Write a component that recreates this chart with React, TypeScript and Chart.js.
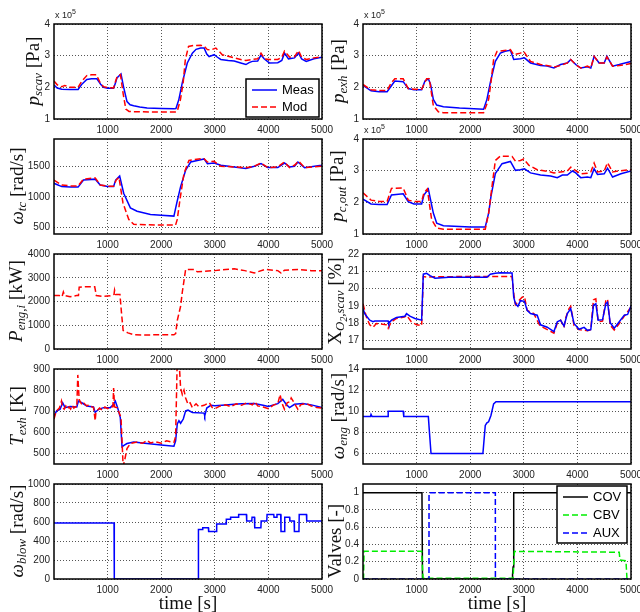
import React, { useEffect, useRef } from "react";
import { Chart, registerables } from "chart.js";
Chart.register(...registerables);

// ---------- axis ticks ----------
const X_TICKS = [1000, 2000, 3000, 4000, 5000];
const P_TICKS = [1, 2, 3, 4];
const WTC_TICKS = [500, 1000, 1500];
const PENG_TICKS = [0, 1000, 2000, 3000, 4000];
const TEXH_TICKS = [500, 600, 700, 800, 900];
const WBLOW_TICKS = [0, 200, 400, 600, 800, 1000];
const XO2_TICKS = [17, 18, 19, 20, 21, 22];
const WENG_TICKS = [6, 8, 10, 12, 14];
const VALVE_TICKS = [0, 0.2, 0.4, 0.6, 0.8, 1];

// ---------- p_scav (x 1e5 Pa) ----------
const pScavMeasT = [0, 60, 145, 300, 450, 520, 612, 700, 800, 870, 925, 1000, 1112, 1150, 1175, 1250, 1300, 1362, 1420, 1487, 1600, 1737, 2000, 2237, 2275, 2330, 2394, 2487, 2581, 2650, 2737, 2800, 2850, 2894, 2987, 3050, 3112, 3250, 3362, 3500, 3581, 3640, 3700, 3800, 3862, 3920, 4018, 4175, 4250, 4300, 4375, 4487, 4562, 4620, 4706, 4850, 5000];
const pScavMeasV = [2.07, 1.98, 1.94, 1.93, 1.93, 2.1, 2.25, 2.27, 2.27, 2.1, 2.0, 1.97, 1.97, 2.15, 2.3, 2.42, 2.0, 1.55, 1.45, 1.42, 1.38, 1.35, 1.33, 1.32, 1.33, 1.62, 2.15, 2.77, 3.08, 3.2, 3.24, 3.24, 3.05, 2.97, 3.03, 2.95, 2.88, 2.85, 2.83, 2.76, 2.72, 2.78, 2.82, 2.83, 3.02, 2.9, 2.77, 2.78, 2.85, 3.08, 2.9, 2.93, 3.08, 2.9, 2.82, 2.9, 2.95];
const pScavModT = [0, 60, 145, 200, 300, 450, 520, 612, 700, 790, 860, 925, 1000, 1112, 1150, 1180, 1240, 1290, 1340, 1400, 1487, 2000, 2260, 2300, 2360, 2410, 2450, 2510, 2600, 2737, 2800, 2862, 2925, 3020, 3140, 3362, 3500, 3581, 3700, 3800, 3862, 3930, 4018, 4175, 4250, 4300, 4400, 4487, 4562, 4620, 4706, 4850, 5000];
const pScavModV = [2.2, 2.08, 2.02, 2.06, 2.0, 2.0, 2.2, 2.37, 2.4, 2.4, 2.15, 2.02, 1.99, 1.98, 2.2, 2.35, 2.4, 1.8, 1.31, 1.24, 1.23, 1.22, 1.22, 1.25, 1.62, 2.15, 2.87, 3.29, 3.32, 3.33, 3.3, 3.19, 3.18, 3.24, 3.03, 2.93, 2.87, 2.85, 2.88, 2.9, 3.08, 2.9, 2.88, 2.88, 2.95, 3.14, 2.95, 2.97, 3.16, 2.95, 2.88, 2.93, 2.97];

// ---------- p_exh (x 1e5 Pa) ----------
const pExhMeasT = [0, 150, 300, 450, 530, 594, 750, 844, 950, 1094, 1156, 1219, 1260, 1312, 1375, 1500, 1800, 2250, 2312, 2375, 2469, 2562, 2650, 2750, 2812, 2937, 3012, 3125, 3312, 3437, 3562, 3687, 3812, 3875, 3969, 4062, 4187, 4250, 4312, 4406, 4500, 4550, 4656, 4781, 5000];
const pExhMeasV = [2.06, 1.89, 1.86, 1.86, 2.05, 2.2, 2.18, 1.96, 1.92, 1.92, 2.2, 2.27, 2.1, 1.62, 1.44, 1.39, 1.35, 1.31, 1.62, 2.15, 2.82, 3.08, 3.14, 3.17, 2.88, 2.9, 2.93, 2.77, 2.69, 2.67, 2.61, 2.72, 2.77, 2.88, 2.72, 2.61, 2.65, 2.61, 2.98, 2.77, 2.77, 2.98, 2.67, 2.72, 2.82];
const pExhModT = [0, 150, 300, 450, 530, 594, 750, 844, 950, 1094, 1187, 1237, 1312, 1406, 1500, 2250, 2344, 2387, 2437, 2500, 2750, 2812, 2937, 3000, 3125, 3312, 3500, 3562, 3687, 3812, 3875, 3969, 4062, 4187, 4250, 4312, 4406, 4500, 4550, 4656, 4781, 5000];
const pExhModV = [2.09, 1.92, 1.9, 1.9, 2.15, 2.27, 2.27, 1.96, 1.94, 1.94, 2.27, 2.27, 1.42, 1.23, 1.2, 1.2, 1.62, 2.15, 2.88, 3.13, 3.19, 3.03, 3.08, 3.13, 2.82, 2.72, 2.67, 2.64, 2.69, 2.77, 2.88, 2.72, 2.61, 2.67, 2.61, 2.98, 2.77, 2.77, 2.96, 2.67, 2.69, 2.75];

// ---------- omega_tc (rad/s) ----------
const wTcMeasT = [0, 145, 300, 450, 550, 770, 862, 1000, 1112, 1150, 1225, 1300, 1425, 1550, 1800, 2000, 2237, 2290, 2362, 2456, 2550, 2737, 2800, 2862, 2987, 3112, 3362, 3581, 3737, 3862, 3987, 4175, 4300, 4394, 4487, 4550, 4675, 4987, 5000];
const wTcMeasV = [1222, 1168, 1160, 1160, 1275, 1290, 1195, 1170, 1170, 1275, 1340, 1060, 821, 767, 714, 700, 687, 900, 1168, 1436, 1570, 1607, 1620, 1543, 1553, 1516, 1489, 1463, 1500, 1543, 1478, 1478, 1553, 1489, 1500, 1570, 1478, 1516, 1520];
const wTcModT = [0, 145, 300, 450, 550, 770, 862, 1000, 1112, 1160, 1212, 1287, 1394, 1487, 2000, 2268, 2300, 2350, 2425, 2518, 2737, 2800, 2862, 2987, 3112, 3362, 3581, 3737, 3862, 3987, 4175, 4300, 4394, 4487, 4562, 4675, 4987, 5000];
const wTcModV = [1275, 1195, 1180, 1180, 1290, 1310, 1195, 1175, 1175, 1275, 1318, 901, 634, 553, 540, 540, 634, 955, 1382, 1596, 1623, 1623, 1570, 1580, 1500, 1489, 1478, 1500, 1553, 1478, 1489, 1570, 1478, 1516, 1585, 1478, 1500, 1505];

// ---------- p_c,out (x 1e5 Pa) ----------
const pcMeasT = [0, 150, 300, 450, 531, 750, 844, 950, 1094, 1137, 1219, 1312, 1375, 1500, 2000, 2281, 2344, 2387, 2469, 2594, 2750, 2844, 2937, 3012, 3125, 3312, 3500, 3625, 3719, 3812, 3906, 3969, 4062, 4187, 4250, 4312, 4375, 4500, 4562, 4656, 4812, 5000];
const pcMeasV = [2.1, 1.95, 1.93, 1.93, 2.23, 2.27, 2.02, 1.95, 1.95, 2.23, 2.42, 1.66, 1.34, 1.26, 1.22, 1.22, 1.66, 2.18, 2.91, 3.22, 3.29, 3.01, 3.03, 3.06, 2.93, 2.86, 2.83, 2.78, 2.86, 2.86, 2.99, 2.93, 2.78, 2.8, 2.78, 3.06, 2.88, 2.9, 3.08, 2.8, 2.9, 2.99];
const pcModT = [0, 150, 300, 450, 531, 750, 844, 950, 1094, 1137, 1200, 1281, 1375, 1500, 2000, 2281, 2344, 2406, 2469, 2562, 2781, 2844, 2937, 3000, 3094, 3250, 3500, 3562, 3687, 3812, 3875, 3969, 4062, 4187, 4250, 4312, 4375, 4500, 4562, 4656, 4812, 5000];
const pcModV = [2.3, 2.07, 2.03, 2.03, 2.44, 2.45, 2.07, 2.03, 2.03, 2.3, 2.42, 1.45, 1.19, 1.15, 1.15, 1.15, 1.66, 2.49, 3.32, 3.46, 3.45, 3.3, 3.32, 3.37, 3.17, 3.03, 2.96, 2.93, 2.96, 2.99, 3.11, 3.0, 2.9, 2.92, 2.96, 3.24, 2.96, 2.99, 3.25, 2.96, 3.0, 3.03];

// ---------- P_eng,i (kW) ----------
const pEngT = [0, 100, 150, 175, 200, 300, 420, 456, 470, 600, 760, 790, 900, 1050, 1120, 1130, 1150, 1230, 1260, 1290, 1380, 1487, 1700, 2000, 2237, 2270, 2300, 2362, 2394, 2456, 2612, 2675, 2800, 3000, 3200, 3362, 3560, 3737, 3800, 3937, 4175, 4237, 4300, 4550, 4800, 5000];
const pEngV = [2250, 2250, 2200, 2400, 2250, 2200, 2250, 2250, 2600, 2620, 2620, 2250, 2220, 2240, 2300, 2480, 2300, 2300, 1500, 780, 680, 600, 590, 600, 600, 650, 1200, 1800, 2400, 3350, 3350, 3250, 3270, 3300, 3350, 3380, 3300, 3200, 3250, 3350, 3300, 3200, 3320, 3350, 3300, 3300];

// ---------- X_O2,scav (%) ----------
const xo2MeasT = [0, 31, 125, 187, 220, 469, 480, 531, 625, 781, 812, 875, 969, 1094, 1125, 1187, 1250, 1344, 1600, 2000, 2312, 2375, 2469, 2562, 2781, 2812, 2844, 2890, 2937, 3012, 3062, 3125, 3250, 3312, 3437, 3562, 3625, 3687, 3750, 3812, 3875, 3937, 4031, 4125, 4187, 4250, 4300, 4344, 4387, 4469, 4531, 4562, 4612, 4687, 4781, 4875, 4937, 5000];
const xo2MeasV = [18.84, 18.55, 18.17, 18.08, 18.12, 18.12, 17.98, 18.17, 18.33, 18.4, 18.55, 18.4, 18.27, 18.17, 20.83, 20.88, 20.75, 20.6, 20.65, 20.65, 20.65, 20.83, 20.88, 20.92, 20.9, 19.5, 19.12, 18.97, 19.3, 19.26, 18.74, 18.55, 18.46, 17.9, 17.76, 17.51, 18.08, 18.17, 17.83, 18.55, 18.84, 17.98, 17.64, 17.75, 17.58, 17.62, 19.03, 19.12, 18.17, 18.2, 19.12, 19.21, 18.02, 17.7, 18.08, 18.46, 18.5, 18.99];
const xo2ModT = [0, 62, 125, 187, 250, 437, 469, 531, 625, 781, 812, 900, 1000, 1094, 1125, 1187, 2000, 2781, 2812, 2844, 2906, 2969, 3012, 3062, 3187, 3300, 3562, 3625, 3687, 3750, 3781, 3844, 3875, 3937, 4031, 4187, 4250, 4300, 4344, 4387, 4469, 4531, 4562, 4612, 4687, 4781, 4875, 5000];
const xo2ModV = [19.12, 18.36, 17.9, 17.76, 17.98, 17.9, 17.7, 18.08, 18.27, 18.36, 18.46, 18.08, 17.9, 17.85, 20.69, 20.67, 20.7, 20.7, 19.7, 19.06, 19.3, 19.5, 19.54, 18.74, 18.55, 17.85, 17.42, 18.0, 18.17, 17.75, 18.3, 18.84, 18.97, 17.87, 17.62, 17.56, 17.62, 19.35, 19.4, 18.08, 18.12, 19.3, 19.4, 17.87, 17.6, 17.98, 18.4, 18.93];

// ---------- T_exh (K) ----------
const tExhMeasT = [0, 50, 112, 162, 206, 300, 425, 456, 518, 612, 737, 769, 831, 925, 1050, 1112, 1144, 1187, 1237, 1269, 1312, 1362, 1487, 1737, 2000, 2237, 2269, 2300, 2331, 2362, 2412, 2456, 2500, 2581, 2800, 2812, 2850, 2925, 3000, 3200, 3362, 3500, 3737, 3900, 4000, 4175, 4268, 4330, 4394, 4487, 4643, 4800, 5000];
const tExhMeasV = [678, 702, 709, 740, 717, 722, 720, 748, 740, 725, 720, 694, 709, 717, 717, 733, 748, 717, 670, 531, 539, 547, 554, 547, 540, 534, 560, 640, 655, 643, 663, 702, 705, 694, 691, 678, 715, 728, 726, 730, 733, 735, 736, 728, 722, 736, 756, 733, 717, 733, 736, 730, 717];
const tExhModT = [0, 30, 60, 100, 125, 140, 160, 190, 220, 250, 280, 310, 340, 370, 400, 425, 444, 469, 500, 530, 560, 612, 650, 700, 737, 769, 780, 800, 850, 900, 950, 1000, 1050, 1100, 1112, 1130, 1180, 1250, 1290, 1320, 1362, 1425, 1550, 1650, 1737, 1800, 1900, 2000, 2100, 2237, 2269, 2300, 2331, 2362, 2394, 2425, 2456, 2500, 2540, 2581, 2650, 2700, 2800, 2850, 2900, 2950, 3000, 3100, 3200, 3300, 3400, 3500, 3600, 3700, 3750, 3800, 3900, 4000, 4100, 4175, 4218, 4250, 4300, 4350, 4400, 4425, 4480, 4550, 4600, 4700, 4800, 4900, 5000];
const tExhModV = [663, 690, 705, 715, 735, 748, 718, 710, 725, 712, 720, 710, 728, 715, 722, 718, 872, 756, 740, 730, 738, 725, 730, 722, 718, 655, 690, 700, 715, 705, 720, 712, 718, 722, 810, 720, 716, 670, 440, 470, 523, 547, 554, 548, 562, 550, 555, 548, 560, 552, 580, 950, 950, 810, 779, 800, 763, 733, 740, 717, 735, 722, 728, 735, 740, 718, 712, 725, 730, 722, 735, 728, 740, 730, 745, 725, 720, 712, 730, 735, 779, 740, 709, 740, 745, 763, 740, 709, 730, 738, 725, 718, 715];

// ---------- omega_eng (rad/s) ----------
const wEngT = [0, 140, 150, 170, 469, 470, 750, 760, 1219, 1237, 1269, 2237, 2281, 2312, 2343, 2387, 2437, 2481, 5000];
const wEngV = [9.5, 9.5, 9.7, 9.5, 9.5, 10.0, 10.0, 9.5, 9.5, 8.2, 6.0, 6.0, 8.65, 8.9, 9.0, 9.6, 10.7, 10.9, 10.9];

// ---------- omega_blow (rad/s) ----------
const wBlowT = [0, 1120, 1125, 2690, 2695, 2770, 2775, 2880, 2885, 3030, 3035, 3210, 3215, 3290, 3295, 3440, 3445, 3590, 3595, 3690, 3695, 3740, 3745, 3860, 3865, 3970, 3975, 4100, 4105, 4155, 4160, 4230, 4235, 4300, 4305, 4395, 4400, 4480, 4485, 4570, 4575, 4710, 4715, 5000];
const wBlowV = [590, 590, 0, 0, 520, 520, 540, 540, 500, 500, 580, 580, 630, 630, 650, 650, 680, 680, 610, 610, 650, 650, 540, 540, 610, 610, 680, 680, 650, 650, 680, 680, 500, 500, 650, 650, 610, 610, 500, 500, 680, 680, 610, 610];

// ---------- Valves (-) ----------
const covT = [0, 1100, 1110, 2780, 2790, 2800, 2812, 5000];
const covV = [1, 1, 0, 0, 0.05, 0.14, 1, 1];
const cbvT = [0, 10, 20, 1094, 1120, 2800, 2825, 4780, 4794, 4906, 4925, 5000];
const cbvV = [0, 0, 0.32, 0.32, 0.01, 0.01, 0.32, 0.31, 0.22, 0.21, 0, 0];
const auxT = [0, 1231, 1232, 2469, 2470, 5000];
const auxV = [0, 0, 1, 1, 0, 0];

// ---------- layout ----------
const COL_LEFT = [54, 363];
const ROW_TOP = [23, 138, 253, 368, 483];
const PW = 268;
const PH = 96;
const YW = 46;
const TP = 9;
const RP = 18;
const XH = 18;

const BLUE = "#0000ff";
const RED = "#ff0000";
const GREEN = "#00ee00";
const DASH = [6, 3];

type Series = { t: number[]; v: number[]; color: string; dash: number[]; order: number };
type LegendItem = { label: string; color: string; dash: number[] };
type LegendCfg = { left: number; top: number; w: number; h: number; row0: number; dy: number; items: LegendItem[] };
type PanelCfg = {
  col: number; row: number; yMin: number; yMax: number; yTicks: number[];
  series: Series[]; legend?: LegendCfg; label: React.ReactNode; labelX: number; labelDY?: number; mult?: boolean;
};

const framePlugin = {
  id: "frameBox",
  afterDraw(chart: any, _args: any, opts: any) {
    const { ctx, chartArea: a } = chart;
    ctx.save();
    ctx.setLineDash([]);
    ctx.strokeStyle = "#000";
    ctx.lineWidth = 1.5;
    ctx.strokeRect(a.left, a.top, a.right - a.left, a.bottom - a.top);
    const lg: LegendCfg | undefined = opts && opts.legend;
    if (lg) {
      const L = a.left + lg.left;
      const T = a.top + lg.top;
      ctx.fillStyle = "#fff";
      ctx.fillRect(L, T, lg.w, lg.h);
      ctx.strokeRect(L, T, lg.w, lg.h);
      ctx.font = '13px "Liberation Sans", Arial, sans-serif';
      ctx.textBaseline = "middle";
      lg.items.forEach((it, i) => {
        const y = T + lg.row0 + i * lg.dy;
        ctx.beginPath();
        ctx.setLineDash(it.dash);
        ctx.strokeStyle = it.color;
        ctx.lineWidth = 1.5;
        ctx.moveTo(L + 6, y);
        ctx.lineTo(L + 31, y);
        ctx.stroke();
        ctx.setLineDash([]);
        ctx.fillStyle = "#000";
        ctx.fillText(it.label, L + 36, y + 0.5);
      });
    }
    ctx.restore();
  },
};

const tickFont = { family: '"Liberation Sans", Arial, sans-serif', size: 10 };

function Panel({ cfg }: { cfg: PanelCfg }) {
  const ref = useRef<HTMLCanvasElement | null>(null);
  useEffect(() => {
    const canvas = ref.current!;
    const chart = new Chart(canvas, {
      type: "line",
      data: {
        datasets: cfg.series.map((s) => ({
          data: s.t.map((t, i) => ({ x: t, y: s.v[i] })),
          borderColor: s.color,
          borderWidth: 1.5,
          borderDash: s.dash,
          pointRadius: 0,
          fill: false,
          tension: 0,
          order: s.order,
        })),
      },
      options: {
        animation: false,
        responsive: false,
        maintainAspectRatio: false,
        events: [],
        layout: { padding: { top: TP, right: RP, left: 0, bottom: 0 } },
        plugins: {
          legend: { display: false },
          tooltip: { enabled: false },
          frameBox: { legend: cfg.legend },
        } as any,
        scales: {
          x: {
            type: "linear",
            min: 0,
            max: 5000,
            afterBuildTicks: (s: any) => { s.ticks = X_TICKS.map((value) => ({ value })); },
            afterFit: (s: any) => { s.height = XH; },
            grid: { color: "#555", lineWidth: 1, drawTicks: false },
            border: { display: false, dash: [1, 2] },
            ticks: { font: tickFont, color: "#222", padding: 5, maxRotation: 0, minRotation: 0, autoSkip: false, callback: (v: any) => String(v) },
          },
          y: {
            type: "linear",
            min: cfg.yMin,
            max: cfg.yMax,
            afterBuildTicks: (s: any) => { s.ticks = cfg.yTicks.map((value) => ({ value })); },
            afterFit: (s: any) => { s.width = YW; },
            grid: { color: "#555", lineWidth: 1, drawTicks: false },
            border: { display: false, dash: [1, 2] },
            ticks: { font: tickFont, color: "#222", padding: 4, autoSkip: false, callback: (v: any) => String(v) },
          },
        },
      } as any,
      plugins: [framePlugin],
    });
    return () => chart.destroy();
  }, [cfg]);

  const left = COL_LEFT[cfg.col] - YW;
  const top = ROW_TOP[cfg.row] - TP;
  const w = YW + PW + RP;
  const h = TP + PH + XH;
  return (
    <canvas
      ref={ref}
      width={w}
      height={h}
      style={{ position: "absolute", left, top, width: w, height: h }}
    />
  );
}

const It = ({ children }: { children: React.ReactNode }) => <span style={{ fontStyle: "italic" }}>{children}</span>;
const Sub = ({ children }: { children: React.ReactNode }) => (
  <span style={{ fontSize: "0.68em", fontStyle: "italic", position: "relative", top: "0.25em" }}>{children}</span>
);

const panels: PanelCfg[] = [
  {
    col: 0, row: 0, yMin: 1, yMax: 4, yTicks: P_TICKS, mult: true, labelX: 34,
    series: [
      { t: pScavMeasT, v: pScavMeasV, color: BLUE, dash: [], order: 1 },
      { t: pScavModT, v: pScavModV, color: RED, dash: DASH, order: 0 },
    ],
    legend: {
      left: 192, top: 55, w: 73, h: 38, row0: 11, dy: 17,
      items: [
        { label: "Meas", color: BLUE, dash: [] },
        { label: "Mod", color: RED, dash: DASH },
      ],
    },
    label: <><It>p</It><Sub>scav</Sub>{"\u00a0[Pa]"}</>,
  },
  {
    col: 0, row: 1, yMin: 395, yMax: 1945, yTicks: WTC_TICKS, labelX: 18,
    series: [
      { t: wTcMeasT, v: wTcMeasV, color: BLUE, dash: [], order: 1 },
      { t: wTcModT, v: wTcModV, color: RED, dash: DASH, order: 0 },
    ],
    label: <><It>ω</It><Sub>tc</Sub>{"\u00a0[rad/s]"}</>,
  },
  {
    col: 0, row: 2, yMin: 0, yMax: 4000, yTicks: PENG_TICKS, labelX: 17,
    series: [{ t: pEngT, v: pEngV, color: RED, dash: DASH, order: 0 }],
    label: <><It>P</It><Sub>eng,i</Sub>{"\u00a0[kW]"}</>,
  },
  {
    col: 0, row: 3, yMin: 450, yMax: 900, yTicks: TEXH_TICKS, labelX: 18,
    series: [
      { t: tExhMeasT, v: tExhMeasV, color: BLUE, dash: [], order: 1 },
      { t: tExhModT, v: tExhModV, color: RED, dash: DASH, order: 0 },
    ],
    label: <><It>T</It><Sub>exh</Sub>{"\u00a0[K]"}</>,
  },
  {
    col: 0, row: 4, yMin: 0, yMax: 1000, yTicks: WBLOW_TICKS, labelX: 18,
    series: [{ t: wBlowT, v: wBlowV, color: BLUE, dash: [], order: 0 }],
    label: <><It>ω</It><Sub>blow</Sub>{"\u00a0[rad/s]"}</>,
  },
  {
    col: 1, row: 0, yMin: 1, yMax: 4, yTicks: P_TICKS, mult: true, labelX: 339,
    series: [
      { t: pExhMeasT, v: pExhMeasV, color: BLUE, dash: [], order: 1 },
      { t: pExhModT, v: pExhModV, color: RED, dash: DASH, order: 0 },
    ],
    label: <><It>p</It><Sub>exh</Sub>{"\u00a0[Pa]"}</>,
  },
  {
    col: 1, row: 1, yMin: 1, yMax: 4, yTicks: P_TICKS, mult: true, labelX: 338,
    series: [
      { t: pcMeasT, v: pcMeasV, color: BLUE, dash: [], order: 1 },
      { t: pcModT, v: pcModV, color: RED, dash: DASH, order: 0 },
    ],
    label: <><It>p</It><Sub>c,out</Sub>{"\u00a0[Pa]"}</>,
  },
  {
    col: 1, row: 2, yMin: 16.5, yMax: 22, yTicks: XO2_TICKS, labelX: 336,
    series: [
      { t: xo2MeasT, v: xo2MeasV, color: BLUE, dash: [], order: 0 },
      { t: xo2ModT, v: xo2ModV, color: RED, dash: DASH, order: 1 },
    ],
    label: (
      <>X<Sub>O<span style={{ fontSize: "0.75em", position: "relative", top: "0.25em" }}>2</span>,scav</Sub>{"\u00a0[%]"}</>
    ),
  },
  {
    col: 1, row: 3, yMin: 5, yMax: 14, yTicks: WENG_TICKS, labelX: 339,
    series: [{ t: wEngT, v: wEngV, color: BLUE, dash: [], order: 0 }],
    label: <><It>ω</It><Sub>eng</Sub>{"\u00a0[rad/s]"}</>,
  },
  {
    col: 1, row: 4, yMin: 0, yMax: 1.1, yTicks: VALVE_TICKS, labelX: 335, labelDY: 10,
    series: [
      { t: covT, v: covV, color: "#000", dash: [], order: 2 },
      { t: cbvT, v: cbvV, color: GREEN, dash: DASH, order: 1 },
      { t: auxT, v: auxV, color: BLUE, dash: DASH, order: 0 },
    ],
    legend: {
      left: 194, top: 2, w: 70, h: 57, row0: 11, dy: 18,
      items: [
        { label: "COV", color: "#000", dash: [] },
        { label: "CBV", color: GREEN, dash: DASH },
        { label: "AUX", color: BLUE, dash: DASH },
      ],
    },
    label: <>{"Valves\u00a0[-]"}</>,
  },
];

const serif = '"Liberation Serif", "DejaVu Serif", serif';

export default function App() {
  return (
    <div style={{ position: "absolute", left: 0, top: 0, width: 640, height: 612, background: "#fff", overflow: "hidden" }}>
      {panels.map((p, i) => (
        <Panel key={i} cfg={p} />
      ))}
      {panels.map((p, i) => (
        <div
          key={"l" + i}
          style={{
            position: "absolute",
            left: p.labelX,
            top: ROW_TOP[p.row] + PH / 2 + (p.labelDY || 0),
            transform: "translate(-50%, -50%) rotate(-90deg)",
            whiteSpace: "nowrap",
            fontFamily: serif,
            fontSize: 19,
            lineHeight: "20px",
            color: "#111",
          }}
        >
          {p.label}
        </div>
      ))}
      {panels.filter((p) => p.mult).map((p, i) => (
        <div
          key={"m" + i}
          style={{
            position: "absolute",
            left: COL_LEFT[p.col] + 1,
            top: ROW_TOP[p.row] - 13,
            fontFamily: '"Liberation Sans", Arial, sans-serif',
            fontSize: 9,
            lineHeight: "10px",
            color: "#222",
            whiteSpace: "nowrap",
          }}
        >
          x 10<span style={{ fontSize: 7, position: "relative", top: -4 }}>5</span>
        </div>
      ))}
      {[0, 1].map((c) => (
        <div
          key={"x" + c}
          style={{
            position: "absolute",
            left: COL_LEFT[c] + PW / 2,
            top: 603,
            transform: "translate(-50%, -50%)",
            whiteSpace: "nowrap",
            fontFamily: serif,
            fontSize: 19,
            color: "#111",
          }}
        >
          time [s]
        </div>
      ))}
    </div>
  );
}
